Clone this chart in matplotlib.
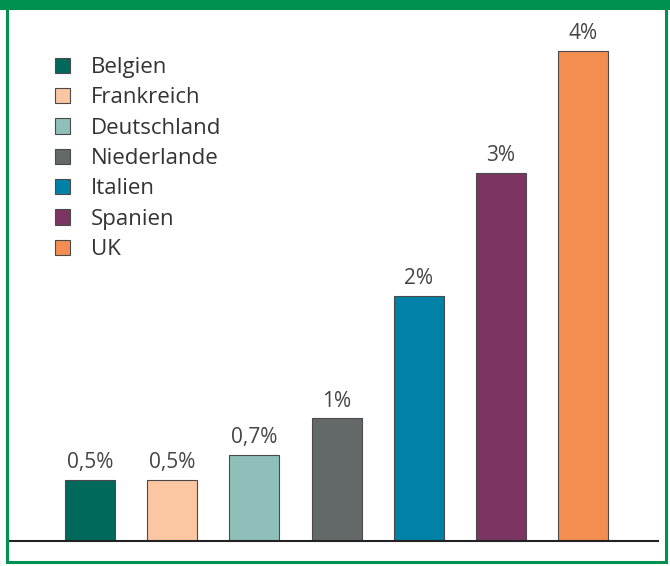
import matplotlib.pyplot as plt
from matplotlib.patches import Rectangle

plt.rcParams['font.family'] = ['Open Sans', 'DejaVu Sans']

countries = ['Belgien', 'Frankreich', 'Deutschland', 'Niederlande', 'Italien', 'Spanien', 'UK']
values = [0.5, 0.5, 0.7, 1.0, 2.0, 3.0, 4.0]
labels = ['0,5%', '0,5%', '0,7%', '1%', '2%', '3%', '4%']
colors = ['#00695b', '#fbc6a2', '#8ebfb9', '#636969', '#0081a7', '#7c3562', '#f48d50']

W, H = 670, 566
fig = plt.figure(figsize=(W / 100, H / 100), dpi=100)

# green frame
green = '#00904f'
fig.patches.append(Rectangle((0, (H - 10) / H), 1, 10 / H, transform=fig.transFigure,
                             facecolor=green, edgecolor='none'))
fig.patches.append(Rectangle((7 / W, 4 / H), 659 / W, (H - 12) / H, transform=fig.transFigure,
                             facecolor='none', edgecolor=green, linewidth=2.2))

# axes: baseline at y=541 px, top at 20 px; x from 10 to 658 px
ax = fig.add_axes([10 / W, (H - 541) / H, 648 / W, 521 / H])
x = list(range(len(countries)))
bars = ax.bar(x, values, width=0.61, color=colors, edgecolor='#4a4a4a', linewidth=0.8,
              label=countries)
for xi, v, lab in zip(x, values, labels):
    ax.text(xi, v + 0.055, lab, ha='center', va='bottom', fontsize=15, color='#444444')

ax.set_xlim(-0.973, 6.91)
ax.set_ylim(0, 4.25)
for s in ['top', 'right', 'left']:
    ax.spines[s].set_visible(False)
ax.spines['bottom'].set_color('#222222')
ax.spines['bottom'].set_linewidth(1.5)
ax.set_xticks([])
ax.set_yticks([])

leg = ax.legend(bars, countries, loc='upper left', bbox_to_anchor=(0.0694, 0.929),
                frameon=False, fontsize=16, handlelength=0.68, handleheight=0.68,
                handletextpad=0.95, labelspacing=0.42, borderpad=0, borderaxespad=0,
                labelcolor='#333333')

fig.savefig('out.png', dpi=100)
